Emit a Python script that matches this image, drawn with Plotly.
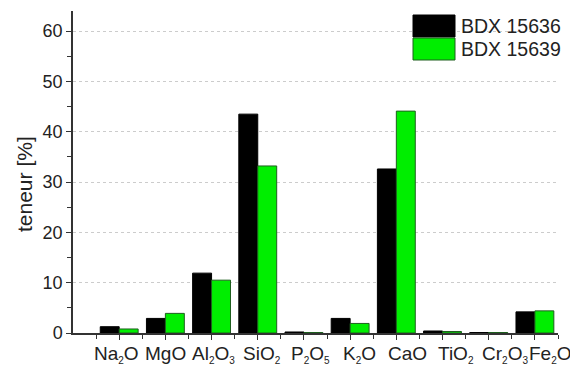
import plotly.graph_objects as go

categories = ["Na<sub>2</sub>O", "MgO", "Al<sub>2</sub>O<sub>3</sub>", "SiO<sub>2</sub>",
              "P<sub>2</sub>O<sub>5</sub>", "K<sub>2</sub>O", "CaO", "TiO<sub>2</sub>",
              "Cr<sub>2</sub>O<sub>3</sub>", "Fe<sub>2</sub>O<sub>3</sub>"]
series_names = ["BDX 15636", "BDX 15639"]
bdx_15636 = [1.25, 2.9, 11.9, 43.5, 0.2, 2.9, 32.6, 0.4, 0.1, 4.2]
bdx_15639 = [0.8, 3.9, 10.5, 33.2, 0.1, 1.9, 44.1, 0.3, 0.1, 4.4]
y_ticks = [0, 10, 20, 30, 40, 50, 60]
y_title = "teneur [%]"

fills = ["#000000", "#00ee00"]
lines = ["#000000", "#1f5f1f"]

x = list(range(len(categories)))
fig = go.Figure()
for name, vals, fc, lc in zip(series_names, [bdx_15636, bdx_15639], fills, lines):
    fig.add_trace(go.Bar(x=x, y=vals, name=name, marker=dict(color=fc, line=dict(color=lc, width=1)),
                         showlegend=False))

# manual legend (large swatches)
PW, PH = 485, 322
for i, (name, fc, lc) in enumerate(zip(series_names, fills, lines)):
    y_top = 1 - (4 + i * 23) / PH
    y_bot = y_top - 22 / PH
    fig.add_shape(type="rect", xref="paper", yref="paper",
                  x0=(413 - 73) / PW, x1=(455 - 73) / PW, y0=y_bot, y1=y_top,
                  fillcolor=fc, line=dict(color=lc, width=1))
    fig.add_annotation(xref="paper", yref="paper", x=(459 - 73) / PW, y=(y_top + y_bot) / 2,
                       text=name, showarrow=False, xanchor="left", yanchor="middle",
                       font=dict(size=19.5, color="#222"))

# category labels (spread slightly wider than the ticks, as in the original),
# with small subscripts
for i, lab in enumerate(categories):
    small = lab.replace("<sub>", '<sub><span style="font-size:10px">').replace("</sub>", "</span></sub>")
    fig.add_annotation(xref="x", yref="paper", x=1.05 * i - 0.05, y=0, yshift=-8,
                       text=small, showarrow=False, xanchor="center", yanchor="top",
                       font=dict(size=19, color="#222"))

# y-axis title
fig.add_annotation(xref="paper", yref="paper", x=(24 - 73) / PW, y=1 - (184 - 11) / PH,
                   text=y_title, textangle=-90, showarrow=False,
                   xanchor="center", yanchor="middle", font=dict(size=21, color="#222"))

# page body has an 8px margin, so the figure is 8px smaller and margins shifted
fig.update_layout(
    width=570, height=359,
    margin=dict(l=65, r=20, t=3, b=34),
    paper_bgcolor="white", plot_bgcolor="white",
    barmode="group", bargap=0.18, bargroupgap=0,
    font=dict(family="Liberation Sans, Arial, sans-serif", color="#222"),
)
fig.update_xaxes(
    range=[-1, 9.5], tickvals=x, showticklabels=False,
    ticks="outside", ticklen=5, tickwidth=1.2, tickcolor="#333",
    minor=dict(tickvals=[i - 0.5 for i in range(len(categories) + 1)], ticks="outside",
               ticklen=4, tickcolor="#333", tickwidth=1.2),
    showline=True, linecolor="#333", linewidth=1.5, showgrid=False, zeroline=False,
    automargin=False,
)
fig.update_yaxes(
    range=[0, 64], tickvals=y_ticks,
    ticks="outside", ticklen=5, tickwidth=1.2, tickcolor="#333",
    minor=dict(dtick=5, tick0=0, ticks="outside", ticklen=4, tickcolor="#333", tickwidth=1.2,
               showgrid=False),
    showline=True, linecolor="#333", linewidth=1.5,
    showgrid=True, gridcolor="#cccccc", griddash="dot", gridwidth=1, zeroline=False,
    tickfont=dict(size=18), automargin=False,
)
fig.write_html("out.html")
